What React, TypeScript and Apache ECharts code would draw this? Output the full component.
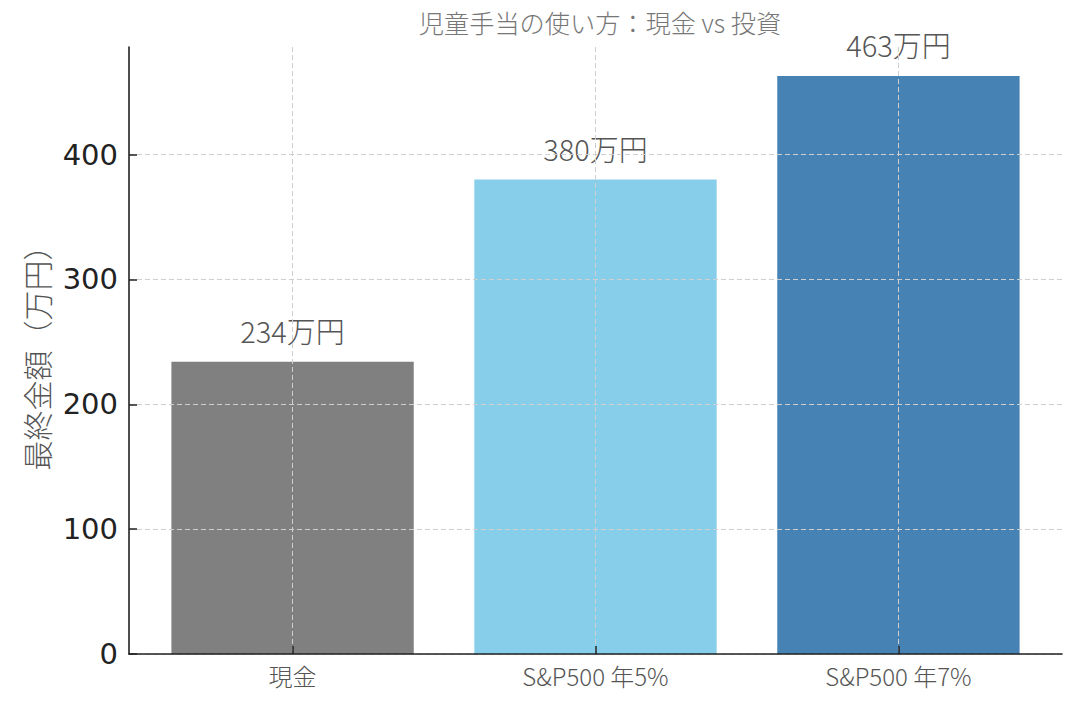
import React, { useEffect, useRef } from "react";
import * as echarts from "echarts";

const TITLE = "児童手当の使い方：現金 vs 投資";
const Y_NAME = "最終金額（万円）";
const categories = ["現金", "S&P500 年5%", "S&P500 年7%"];
const values = [234, 380, 463];
const yTicks = [0, 100, 200, 300, 400];
const barColors = ["#808080", "#87CEEB", "#4682B4"];

const CJK = '"Noto Sans CJK JP", "Noto Sans", sans-serif';

export default function App() {
  const ref = useRef<HTMLDivElement>(null);
  useEffect(() => {
    if (!ref.current) return;
    const chart = echarts.init(ref.current, undefined, { renderer: "svg" });
    const xPos = categories.map((_, i) => i);
    const yMax = Math.max(...values) * 1.05;
    const gridLine = { show: true, lineStyle: { color: "#cfcfcf", width: 1, type: [5, 3] } };
    chart.setOption({
      animation: false,
      backgroundColor: "#ffffff",
      title: {
        text: TITLE,
        left: 595,
        top: 4,
        textAlign: "center",
        textStyle: { fontFamily: CJK, fontSize: 25.2, fontWeight: 300, color: "#777777" },
      },
      grid: { left: 129, right: 18, top: 47, bottom: 51, containLabel: false },
      xAxis: {
        type: "value",
        min: -0.54,
        max: categories.length - 1 + 0.54,
        z: 3,
        axisLine: { show: true, onZero: false, lineStyle: { color: "#222222", width: 1.6 } },
        axisTick: { show: true, inside: true, length: 8, customValues: xPos, lineStyle: { color: "#222222", width: 1.5 } },
        axisLabel: {
          customValues: xPos,
          margin: 9,
          fontFamily: CJK,
          fontSize: 24,
          fontWeight: 300,
          color: "#555555",
          formatter: (v: number) => categories[Math.round(v)] ?? "",
        },
        splitLine: gridLine,
      },
      yAxis: {
        type: "value",
        min: 0,
        max: yMax,
        z: 3,
        name: Y_NAME,
        nameLocation: "middle",
        nameRotate: 90,
        nameGap: 78,
        nameTextStyle: { fontFamily: CJK, fontSize: 30, fontWeight: 300, color: "#555555" },
        axisLine: { show: true, onZero: false, lineStyle: { color: "#222222", width: 1.6 } },
        axisTick: { show: true, inside: true, length: 8, customValues: yTicks, lineStyle: { color: "#222222", width: 1.5 } },
        axisLabel: {
          customValues: yTicks,
          margin: 11,
          fontFamily: '"DejaVu Sans", sans-serif',
          fontSize: 29,
          color: "#222222",
        },
        splitLine: gridLine,
      },
      series: [
        {
          type: "bar",
          barWidth: "80%",
          data: values.map((v, i) => ({ value: [i, v], itemStyle: { color: barColors[i] } })),
          label: {
            show: true,
            position: "top",
            distance: 17,
            fontFamily: CJK,
            fontSize: 29,
            fontWeight: 300,
            color: "#555555",
            formatter: (p: any) => `${p.value[1]}万円`,
          },
        },
      ],
    });
    return () => chart.dispose();
  }, []);
  return (
    <div
      ref={ref}
      style={{ position: "fixed", left: 0, top: 0, width: 1080, height: 705, background: "#fff" }}
    />
  );
}
